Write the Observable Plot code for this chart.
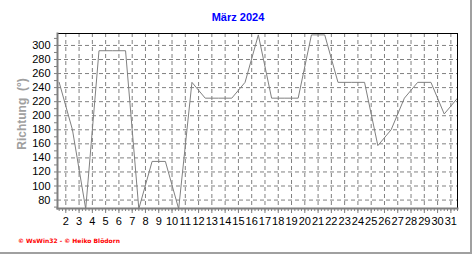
<!DOCTYPE html>
<html><head><meta charset="utf-8">
<script src="https://cdn.jsdelivr.net/npm/d3@7"></script>
<script src="https://cdn.jsdelivr.net/npm/@observablehq/plot@0.6"></script>
<style>
body{margin:0;background:#fff;}
#wrap{position:relative;width:472px;height:255px;overflow:hidden;background:#fff;font-family:"Liberation Sans",Arial,sans-serif;}
#wrap svg{position:absolute;left:0;top:0;}
.title{position:absolute;left:0;width:476px;top:11px;text-align:center;color:#0000ff;font-weight:bold;font-size:11px;}
.ylab{position:absolute;left:22px;top:114px;transform:translate(-50%,-50%) rotate(-90deg);color:#a0a0a0;font-weight:bold;font-size:12px;white-space:pre;}
.foot{position:absolute;left:18px;top:237px;color:#ff0000;font-weight:bold;font-size:6px;font-family:"DejaVu Sans",sans-serif;white-space:pre;}
.frameR{position:absolute;left:470px;top:0;width:2px;height:254px;background:#a0a0a0;}
.frameB{position:absolute;left:0;top:252px;width:472px;height:2px;background:#a0a0a0;}
</style></head><body><div id="wrap"></div>
<script>
const days = [1,2,3,4,5,6,7,8,9,10,11,12,13,14,15,16,17,18,19,20,21,22,23,24,25,26,27,28,29,30,31];
const richtung = [247.5,180,67.5,292.5,292.5,292.5,67.5,135,135,67.5,247.5,225,225,225,247.5,315,225,225,225,315,315,247.5,247.5,247.5,157.5,180,225,247.5,247.5,202.5,225];
const yTicks = [80,100,120,140,160,180,200,220,240,260,280,300];
const xTicks = [2,3,4,5,6,7,8,9,10,11,12,13,14,15,16,17,18,19,20,21,22,23,24,25,26,27,28,29,30,31];
const titleText = "März 2024";
const yLabelText = "Richtung  (°)";
const footerText = "© WsWin32 - © Heiko Blödorn";

const data = days.map((d, i) => ({x: d + 0.5, y: richtung[i]}));
const minorX = d3.range(1.5, 31.51, 0.25);
const minorY = d3.range(70, 320, 10);

const chart = Plot.plot({
  width: 472, height: 255,
  marginLeft: 57, marginRight: 15, marginTop: 33, marginBottom: 47,
  style: {fontFamily: '"Liberation Sans", Arial, sans-serif', fontSize: "11px", color: "black", background: "white"},
  x: {domain: [1.375, 31.5]},
  y: {domain: [68, 317]},
  marks: [
    Plot.gridY(yTicks, {stroke: "#808080", strokeOpacity: 1, strokeDasharray: "4,3"}),
    Plot.gridX(xTicks, {stroke: "#808080", strokeOpacity: 1, strokeDasharray: "4,3"}),
    Plot.line(data, {x: "x", y: "y", stroke: "#808080", strokeWidth: 1, clip: true}),
    Plot.axisY(yTicks, {tickSize: 0, tickPadding: 7, label: null, fill: "black"}),
    Plot.axisY(minorY, {tickSize: 3, text: null, stroke: "#808080", label: null}),
    Plot.axisX(xTicks, {tickSize: 5, tickPadding: 4, tickFormat: "d", label: null, stroke: "#808080", fill: "black"}),
    Plot.axisX(minorX, {tickSize: 3, text: null, stroke: "#808080", label: null}),
    Plot.frame({anchor: "top", stroke: "black"}),
    Plot.frame({anchor: "right", stroke: "black"}),
    Plot.frame({anchor: "left", stroke: "#808080", strokeWidth: 2}),
    Plot.frame({anchor: "bottom", stroke: "#808080", strokeWidth: 2})
  ]
});
const wrap = document.getElementById("wrap");
wrap.appendChild(chart);
const add = (cls, txt) => { const d = document.createElement("div"); d.className = cls; d.textContent = txt; wrap.appendChild(d); };
add("title", titleText);
add("ylab", yLabelText);
add("foot", footerText);
add("frameR", "");
add("frameB", "");
</script></body></html>
